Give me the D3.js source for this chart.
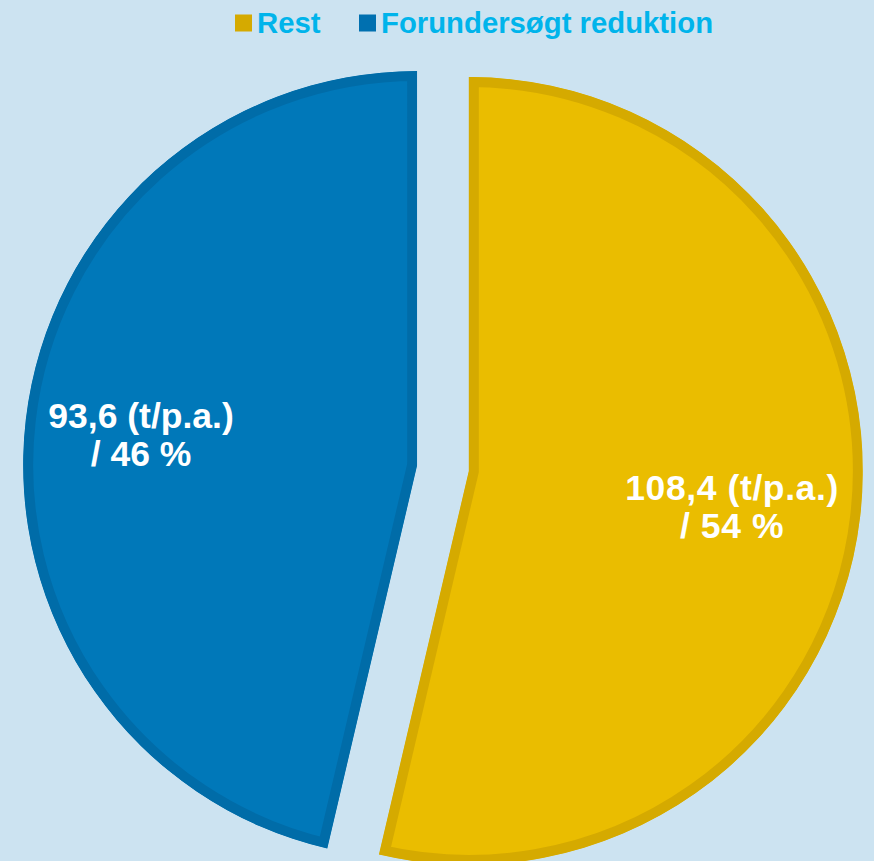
<!DOCTYPE html>
<html>
<head>
<meta charset="utf-8">
<script src="https://cdn.jsdelivr.net/npm/d3@7"></script>
<style>
html,body{margin:0;padding:0;background:#CCE3F1;}
svg{display:block;}
</style>
</head>
<body>
<script>
const categories = ["Rest", "Forundersøgt reduktion"];
const values = [108.4, 93.6];
const valueLabels = ["108,4 (t/p.a.)", "93,6 (t/p.a.)"];
const percentLabels = ["/ 54 %", "/ 46 %"];

// styles (kept separate from data)
const fills = ["#EABD00", "#0078B9"];
const strokes = ["#D5AA00", "#006CA8"];
const legendColors = ["#D5AA00", "#0070B0"];
const labelStyle = [
  {r: 265, size: 35.5, first: -1.8, gap: 38, spacing: 0.6},
  {r: 278, size: 35.5, first: -5, gap: 38, spacing: 0}
];

const W = 874, H = 861;
const cx = 443, cy = 468, R = 394, explode = 26;

const svg = d3.select("body").append("svg").attr("width", W).attr("height", H);
svg.append("rect").attr("width", W).attr("height", H).attr("fill", "#CCE3F1");

const pie = d3.pie().sort(null).value(d => d.v).startAngle(0).endAngle(2*Math.PI);
const data = categories.map((c, i) => ({c, v: values[i], i}));
const arcs = pie(data);
const arc = d3.arc().innerRadius(0).outerRadius(R);

const defs = svg.append("defs");

arcs.forEach((a, k) => {
  const mid = (a.startAngle + a.endAngle) / 2;
  const dx = Math.sin(mid) * explode, dy = -Math.cos(mid) * explode;
  const sg = svg.append("g").attr("transform", `translate(${cx+dx},${cy+dy})`);
  const id = "clip" + k;
  defs.append("clipPath").attr("id", id).append("path").attr("d", arc(a));
  sg.append("path").attr("d", arc(a)).attr("fill", fills[a.data.i])
    .attr("stroke", strokes[a.data.i]).attr("stroke-width", 20)
    .attr("stroke-linejoin", "miter")
    .attr("clip-path", `url(#${id})`);
});

arcs.forEach((a) => {
  const i = a.data.i, st = labelStyle[i];
  const mid = (a.startAngle + a.endAngle) / 2;
  const dx = Math.sin(mid) * explode, dy = -Math.cos(mid) * explode;
  const lx = cx + dx + Math.sin(mid) * st.r;
  const ly = cy + dy - Math.cos(mid) * st.r;
  const t = svg.append("text")
    .attr("text-anchor", "middle")
    .attr("font-family", "'Liberation Sans', Arial, sans-serif")
    .attr("font-weight", "bold").attr("font-size", st.size).attr("fill", "#FFFFFF")
    .attr("letter-spacing", st.spacing);
  t.append("tspan").attr("x", lx).attr("y", ly + st.first).text(valueLabels[i]);
  t.append("tspan").attr("x", lx).attr("y", ly + st.first + st.gap).text(percentLabels[i]);
});

// legend
const legend = svg.append("g").attr("font-family", "'Liberation Sans', Arial, sans-serif")
  .attr("font-weight", "bold").attr("font-size", 29.3);
const legendX = [235, 359];
categories.forEach((c, i) => {
  legend.append("rect").attr("x", legendX[i]).attr("y", 14.5).attr("width", 17).attr("height", 17)
    .attr("fill", legendColors[i]);
  legend.append("text").attr("x", legendX[i] + 22).attr("y", 33).attr("fill", "#00B4EB").text(c);
});
</script>
</body>
</html>
